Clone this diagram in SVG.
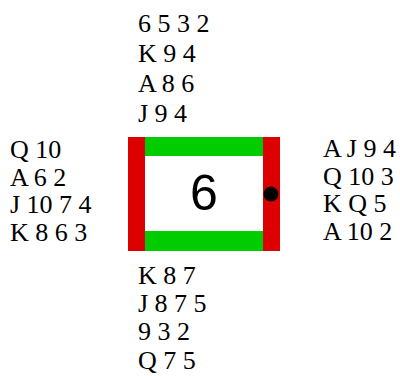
<svg xmlns="http://www.w3.org/2000/svg" width="400" height="376" viewBox="0 0 400 376">
<style>
.h{font-family:"Liberation Serif","Times New Roman",serif;font-size:26px;fill:#000}
.red{fill:#dd0000}
.grn{fill:#00cc00}
</style>
<rect width="400" height="376" fill="#fff"/>
<g id="table">
<rect x="145" y="137" width="118" height="114" fill="#fff"/>
<rect class="grn" x="145" y="137" width="118" height="19"/>
<rect class="grn" x="145" y="231" width="118" height="20"/>
<rect class="red" x="128" y="137" width="17" height="114"/>
<rect class="red" x="263" y="137" width="17" height="114"/>
<circle cx="271" cy="194" r="7.5" fill="#000"/>
<text x="204" y="210" text-anchor="middle" font-family="Liberation Sans, Arial, sans-serif" font-size="50">6</text>
</g>
<g id="north" class="h">
<text class="h" x="138" y="32">6 5 3 2</text>
<text class="h" x="138" y="62">K 9 4</text>
<text class="h" x="138" y="92">A 8 6</text>
<text class="h" x="138" y="121.5">J 9 4</text>
</g>
<g id="west">
<text class="h" x="10" y="158">Q 10</text>
<text class="h" x="10" y="185.5">A 6 2</text>
<text class="h" x="10" y="213">J 10 7 4</text>
<text class="h" x="10" y="240.5">K 8 6 3</text>
</g>
<g id="east">
<text class="h" x="323" y="156.5">A J 9 4</text>
<text class="h" x="323" y="184.5">Q 10 3</text>
<text class="h" x="323" y="212">K Q 5</text>
<text class="h" x="323" y="239.5">A 10 2</text>
</g>
<g id="south">
<text class="h" x="138" y="283.5">K 8 7</text>
<text class="h" x="138" y="311.5">J 8 7 5</text>
<text class="h" x="138" y="340">9 3 2</text>
<text class="h" x="138" y="368.5">Q 7 5</text>
</g>
<g id="connectors"/>
</svg>
